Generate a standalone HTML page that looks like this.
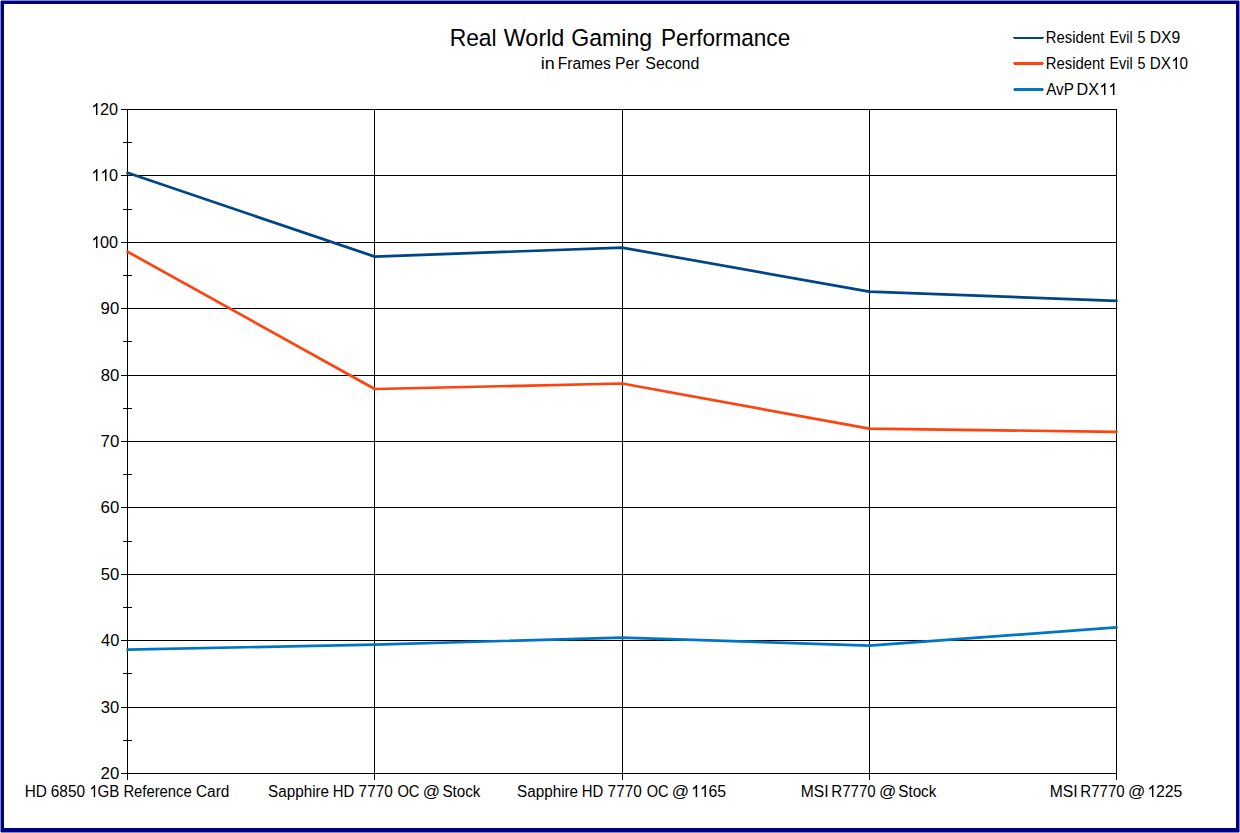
<!DOCTYPE html>
<html>
<head>
<meta charset="utf-8">
<title>Real World Gaming Performance</title>
<style>
html,body{margin:0;padding:0;background:#ffffff;}
body{width:1240px;height:833px;overflow:hidden;position:relative;font-family:"Liberation Sans",sans-serif;}
#frame-outer{position:absolute;left:0;top:0;width:1240px;height:833px;background:#7f89c0;}
#frame-navy{position:absolute;left:1px;top:1px;width:1238px;height:831px;background:#000080;}
#frame-inner{position:absolute;left:4px;top:4px;width:1232px;height:824px;background:#ffffff;}
.corner{position:absolute;width:1px;height:1px;background:#d6fbf8;}
svg{position:absolute;left:0;top:0;}
text{font-family:"Liberation Sans",sans-serif;fill:#000000;}
.grid line{stroke:#000000;stroke-width:1;shape-rendering:crispEdges;}
.series polyline{fill:none;stroke-linejoin:round;stroke-linecap:round;}
path.one{fill:#000000;stroke:#000000;stroke-width:8;stroke-linejoin:miter;}
</style>
</head>
<body>
<div id="frame-outer"></div>
<div id="frame-navy"></div>
<div id="frame-inner"></div>
<div class="corner" style="left:0;top:0"></div>
<div class="corner" style="left:1239px;top:0"></div>
<div class="corner" style="left:0;top:832px"></div>
<div class="corner" style="left:1239px;top:832px"></div>
<svg width="1240" height="833" viewBox="0 0 1240 833">
<g class="grid">
<line x1="121" y1="109.5" x2="1117" y2="109.5"/>
<line x1="121" y1="175.5" x2="1117" y2="175.5"/>
<line x1="121" y1="242.5" x2="1117" y2="242.5"/>
<line x1="121" y1="308.5" x2="1117" y2="308.5"/>
<line x1="121" y1="375.5" x2="1117" y2="375.5"/>
<line x1="121" y1="441.5" x2="1117" y2="441.5"/>
<line x1="121" y1="507.5" x2="1117" y2="507.5"/>
<line x1="121" y1="574.5" x2="1117" y2="574.5"/>
<line x1="121" y1="640.5" x2="1117" y2="640.5"/>
<line x1="121" y1="707.5" x2="1117" y2="707.5"/>
<line x1="121" y1="773.5" x2="1117" y2="773.5"/>
<line x1="123" y1="142.5" x2="132" y2="142.5"/>
<line x1="123" y1="209.5" x2="132" y2="209.5"/>
<line x1="123" y1="275.5" x2="132" y2="275.5"/>
<line x1="123" y1="341.5" x2="132" y2="341.5"/>
<line x1="123" y1="408.5" x2="132" y2="408.5"/>
<line x1="123" y1="474.5" x2="132" y2="474.5"/>
<line x1="123" y1="541.5" x2="132" y2="541.5"/>
<line x1="123" y1="607.5" x2="132" y2="607.5"/>
<line x1="123" y1="673.5" x2="132" y2="673.5"/>
<line x1="123" y1="740.5" x2="132" y2="740.5"/>
<line x1="127.5" y1="109" x2="127.5" y2="780"/>
<line x1="374.5" y1="109" x2="374.5" y2="780"/>
<line x1="622.5" y1="109" x2="622.5" y2="780"/>
<line x1="869.5" y1="109" x2="869.5" y2="780"/>
<line x1="1116.5" y1="109" x2="1116.5" y2="780"/>
</g>
<g class="series">
<polyline stroke="#004586" stroke-width="2.7" points="127.5,172.8 374.75,256.65 622,247.6 869.25,291.65 1116.5,300.8"/>
<polyline stroke="#ff420e" stroke-width="2.7" points="127.5,251.7 374.75,389 622,383.5 869.25,428.6 1116.5,431.8"/>
<polyline stroke="#0075c6" stroke-width="2.7" points="127.5,649.7 374.75,644.55 622,637.6 869.25,645.6 1116.5,627.4"/>
</g>
<g class="ylabels" font-size="16">
<path class="one" d="M763 0L583 0L583 1147Q518 1085 412.5 1023Q307 961 223 930L223 1104Q374 1175 487 1276Q600 1377 647 1472L763 1472Z" transform="translate(91.36 115) scale(0.00794 -0.00815)"/><text x="100.05" y="115" textLength="18.09" lengthAdjust="spacingAndGlyphs">20</text>
<path class="one" d="M763 0L583 0L583 1147Q518 1085 412.5 1023Q307 961 223 930L223 1104Q374 1175 487 1276Q600 1377 647 1472L763 1472Z" transform="translate(91.36 181) scale(0.00794 -0.00815)"/><path class="one" d="M763 0L583 0L583 1147Q518 1085 412.5 1023Q307 961 223 930L223 1104Q374 1175 487 1276Q600 1377 647 1472L763 1472Z" transform="translate(100.4 181) scale(0.00794 -0.00815)"/><text x="109.09" y="181" textLength="9.04" lengthAdjust="spacingAndGlyphs">0</text>
<path class="one" d="M763 0L583 0L583 1147Q518 1085 412.5 1023Q307 961 223 930L223 1104Q374 1175 487 1276Q600 1377 647 1472L763 1472Z" transform="translate(91.36 248) scale(0.00794 -0.00815)"/><text x="100.05" y="248" textLength="18.09" lengthAdjust="spacingAndGlyphs">00</text>
<text x="100.61" y="314" textLength="18.64" lengthAdjust="spacingAndGlyphs">90</text>
<text x="100.67" y="381" textLength="18.58" lengthAdjust="spacingAndGlyphs">80</text>
<text x="100.54" y="447" textLength="18.72" lengthAdjust="spacingAndGlyphs">70</text>
<text x="100.55" y="513" textLength="18.71" lengthAdjust="spacingAndGlyphs">60</text>
<text x="100.73" y="580" textLength="18.52" lengthAdjust="spacingAndGlyphs">50</text>
<text x="101.02" y="646" textLength="18.22" lengthAdjust="spacingAndGlyphs">40</text>
<text x="100.77" y="713" textLength="18.48" lengthAdjust="spacingAndGlyphs">30</text>
<text x="100.55" y="779" textLength="18.7" lengthAdjust="spacingAndGlyphs">20</text>
</g>
<g class="lbl-title" font-size="23.7">
<text x="449.63" y="46" textLength="47" lengthAdjust="spacingAndGlyphs">Real</text>
<text x="503.7" y="46" textLength="60.71" lengthAdjust="spacingAndGlyphs">World</text>
<text x="571.24" y="46" textLength="80.85" lengthAdjust="spacingAndGlyphs">Gaming</text>
<text x="661.05" y="46" textLength="129.15" lengthAdjust="spacingAndGlyphs">Performance</text>
</g>
<g class="lbl-subtitle" font-size="16">
<text x="540.8" y="69" textLength="13.97" lengthAdjust="spacingAndGlyphs">in</text>
<text x="557.72" y="69" textLength="53.05" lengthAdjust="spacingAndGlyphs">Frames</text>
<text x="615.01" y="69" textLength="24.45" lengthAdjust="spacingAndGlyphs">Per</text>
<text x="645.28" y="69" textLength="54.05" lengthAdjust="spacingAndGlyphs">Second</text>
</g>
<g class="lbl-leg1" font-size="16">
<text x="1045.78" y="43" textLength="58.53" lengthAdjust="spacingAndGlyphs">Resident</text>
<text x="1109.52" y="43" textLength="23.14" lengthAdjust="spacingAndGlyphs">Evil</text>
<text x="1137.43" y="43" textLength="7.98" lengthAdjust="spacingAndGlyphs">5</text>
<text x="1149.71" y="43" textLength="30.53" lengthAdjust="spacingAndGlyphs">DX9</text>
</g>
<g class="lbl-leg2" font-size="16">
<text x="1045.78" y="69" textLength="58.53" lengthAdjust="spacingAndGlyphs">Resident</text>
<text x="1109.52" y="69" textLength="23.14" lengthAdjust="spacingAndGlyphs">Evil</text>
<text x="1137.43" y="69" textLength="7.98" lengthAdjust="spacingAndGlyphs">5</text>
<text x="1149.75" y="69" textLength="21.18" lengthAdjust="spacingAndGlyphs">DX</text><path class="one" d="M763 0L583 0L583 1147Q518 1085 412.5 1023Q307 961 223 930L223 1104Q374 1175 487 1276Q600 1377 647 1472L763 1472Z" transform="translate(1171.27 69) scale(0.00745 -0.00815)"/><text x="1179.41" y="69" textLength="8.48" lengthAdjust="spacingAndGlyphs">0</text>
</g>
<g class="lbl-leg3" font-size="16">
<text x="1046.17" y="95" textLength="27.63" lengthAdjust="spacingAndGlyphs">AvP</text>
<text x="1076.58" y="95" textLength="22.44" lengthAdjust="spacingAndGlyphs">DX</text><path class="one" d="M763 0L583 0L583 1147Q518 1085 412.5 1023Q307 961 223 930L223 1104Q374 1175 487 1276Q600 1377 647 1472L763 1472Z" transform="translate(1099.37 95) scale(0.00789 -0.00815)"/><path class="one" d="M763 0L583 0L583 1147Q518 1085 412.5 1023Q307 961 223 930L223 1104Q374 1175 487 1276Q600 1377 647 1472L763 1472Z" transform="translate(1108.35 95) scale(0.00789 -0.00815)"/>
</g>
<g class="lbl-x1" font-size="16">
<text x="24.74" y="797" textLength="22.2" lengthAdjust="spacingAndGlyphs">HD</text>
<text x="50.82" y="797" textLength="34.18" lengthAdjust="spacingAndGlyphs">6850</text>
<path class="one" d="M763 0L583 0L583 1147Q518 1085 412.5 1023Q307 961 223 930L223 1104Q374 1175 487 1276Q600 1377 647 1472L763 1472Z" transform="translate(89.48 797) scale(0.00738 -0.00815)"/><text x="97.56" y="797" textLength="21.84" lengthAdjust="spacingAndGlyphs">GB</text>
<text x="123.38" y="797" textLength="68.37" lengthAdjust="spacingAndGlyphs">Reference</text>
<text x="195.92" y="797" textLength="33.48" lengthAdjust="spacingAndGlyphs">Card</text>
</g>
<g class="lbl-x2" font-size="16">
<text x="268.11" y="797" textLength="60.97" lengthAdjust="spacingAndGlyphs">Sapphire</text>
<text x="332.68" y="797" textLength="21.54" lengthAdjust="spacingAndGlyphs">HD</text>
<text x="358.61" y="797" textLength="34.08" lengthAdjust="spacingAndGlyphs">7770</text>
<text x="397.4" y="797" textLength="22.06" lengthAdjust="spacingAndGlyphs">OC</text>
<text x="422.86" y="797" textLength="17.32" lengthAdjust="spacingAndGlyphs">@</text>
<text x="442.41" y="797" textLength="37.97" lengthAdjust="spacingAndGlyphs">Stock</text>
</g>
<g class="lbl-x3" font-size="16">
<text x="517.11" y="797" textLength="60.97" lengthAdjust="spacingAndGlyphs">Sapphire</text>
<text x="581.68" y="797" textLength="21.54" lengthAdjust="spacingAndGlyphs">HD</text>
<text x="607.61" y="797" textLength="34.08" lengthAdjust="spacingAndGlyphs">7770</text>
<text x="646.71" y="797" textLength="21.84" lengthAdjust="spacingAndGlyphs">OC</text>
<text x="671.76" y="797" textLength="17.32" lengthAdjust="spacingAndGlyphs">@</text>
<path class="one" d="M763 0L583 0L583 1147Q518 1085 412.5 1023Q307 961 223 930L223 1104Q374 1175 487 1276Q600 1377 647 1472L763 1472Z" transform="translate(691.21 797) scale(0.00773 -0.00815)"/><path class="one" d="M763 0L583 0L583 1147Q518 1085 412.5 1023Q307 961 223 930L223 1104Q374 1175 487 1276Q600 1377 647 1472L763 1472Z" transform="translate(700.01 797) scale(0.00773 -0.00815)"/><text x="708.46" y="797" textLength="17.6" lengthAdjust="spacingAndGlyphs">65</text>
</g>
<g class="lbl-x4" font-size="16">
<text x="800.72" y="797" textLength="27.83" lengthAdjust="spacingAndGlyphs">MSI</text>
<text x="831.26" y="797" textLength="44.43" lengthAdjust="spacingAndGlyphs">R7770</text>
<text x="878.96" y="797" textLength="17.32" lengthAdjust="spacingAndGlyphs">@</text>
<text x="898.31" y="797" textLength="37.97" lengthAdjust="spacingAndGlyphs">Stock</text>
</g>
<g class="lbl-x5" font-size="16">
<text x="1049.72" y="797" textLength="27.83" lengthAdjust="spacingAndGlyphs">MSI</text>
<text x="1080.26" y="797" textLength="44.43" lengthAdjust="spacingAndGlyphs">R7770</text>
<text x="1127.96" y="797" textLength="17.32" lengthAdjust="spacingAndGlyphs">@</text>
<path class="one" d="M763 0L583 0L583 1147Q518 1085 412.5 1023Q307 961 223 930L223 1104Q374 1175 487 1276Q600 1377 647 1472L763 1472Z" transform="translate(1147.51 797) scale(0.00773 -0.00815)"/><text x="1155.96" y="797" textLength="26.4" lengthAdjust="spacingAndGlyphs">225</text>
</g>
<g class="legend">
<rect x="1013" y="37" width="31" height="1" fill="#004586"/>
<rect x="1014" y="38" width="29" height="1" fill="#004586"/>
<rect x="1014" y="62" width="29" height="3" fill="#ff420e"/>
<rect x="1013" y="63" width="31" height="1" fill="#ff420e" fill-opacity="0.75"/>
<rect x="1014" y="88" width="29" height="3" fill="#0075c6"/>
<rect x="1013" y="89" width="31" height="1" fill="#0075c6" fill-opacity="0.75"/>
</g>
</svg>
</body>
</html>
